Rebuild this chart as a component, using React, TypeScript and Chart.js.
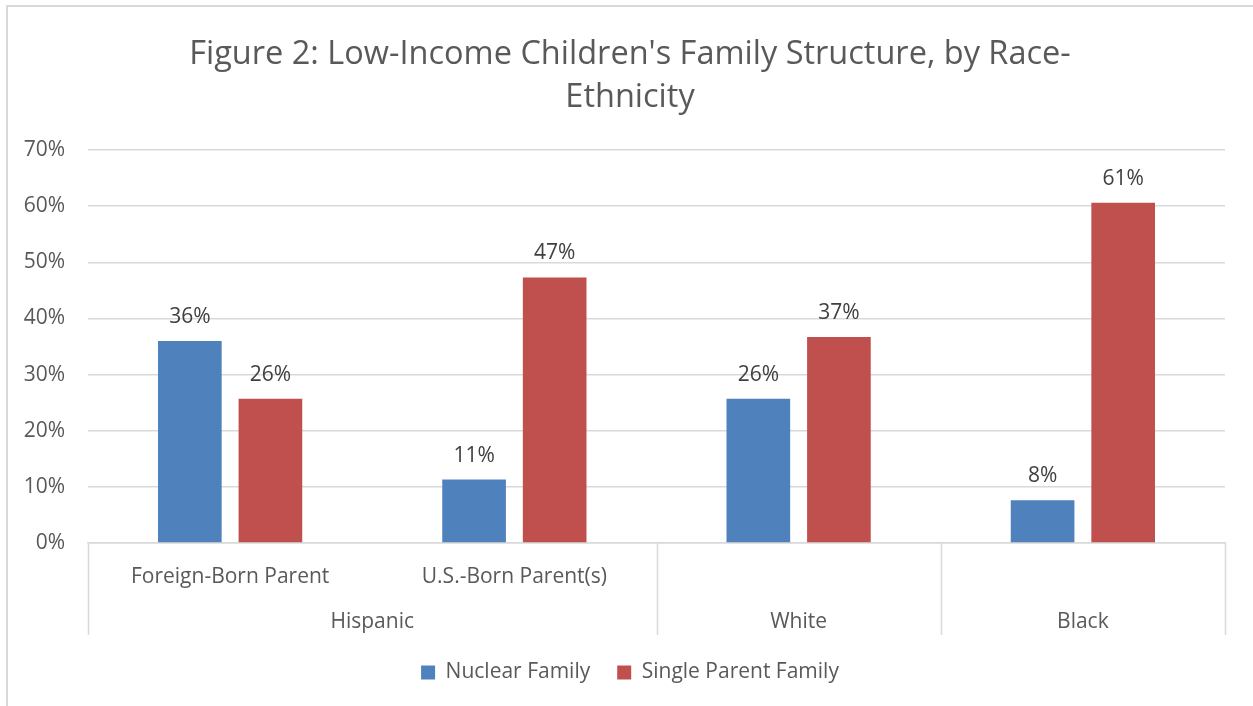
import React, { useEffect, useRef } from "react";
import { Chart, registerables } from "chart.js";

Chart.register(...registerables);

const categories = ["Foreign-Born Parent", "U.S.-Born Parent(s)", "", ""];
const groupLabels = ["Hispanic", "White", "Black"];
const groupCenters = [0.5, 2, 3];
const groupBounds = [-0.5, 1.5, 2.5, 3.5];
const nuclearFamily = [36.0, 11.3, 25.7, 7.6];
const singleParentFamily = [25.7, 47.3, 36.7, 60.6];
const yTicks = [0, 10, 20, 30, 40, 50, 60, 70];

const FONT = "'Open Sans', 'Noto Sans', sans-serif";
const TEXT = "#595959";
const GRID = "#d9d9d9";

const valueLabels = {
  id: "valueLabels",
  afterDatasetsDraw(chart: any) {
    const ctx = chart.ctx;
    ctx.save();
    ctx.font = `21px ${FONT}`;
    ctx.fillStyle = "#404040";
    ctx.textAlign = "center";
    ctx.textBaseline = "alphabetic";
    chart.data.datasets.forEach((ds: any, di: number) => {
      const meta = chart.getDatasetMeta(di);
      meta.data.forEach((bar: any, i: number) => {
        ctx.fillText(Math.round(ds.data[i]) + "%", bar.x, bar.y - 18);
      });
    });
    ctx.restore();
  },
};

const separators = {
  id: "separators",
  afterDraw(chart: any) {
    const x2 = chart.scales.x2;
    const ctx = chart.ctx;
    ctx.save();
    ctx.strokeStyle = GRID;
    ctx.lineWidth = 1.5;
    groupBounds.forEach((v) => {
      const px = Math.round(x2.getPixelForValue(v)) + 0.5;
      ctx.beginPath();
      ctx.moveTo(px, chart.chartArea.bottom);
      ctx.lineTo(px, x2.bottom);
      ctx.stroke();
    });
    ctx.restore();
  },
};

export default function App() {
  const ref = useRef<HTMLCanvasElement>(null);
  useEffect(() => {
    const chart = new Chart(ref.current as HTMLCanvasElement, {
      type: "bar",
      data: {
        labels: categories,
        datasets: [
          {
            label: "Nuclear Family",
            data: nuclearFamily,
            backgroundColor: "#4f81bd",
            categoryPercentage: 0.567,
            barPercentage: 0.79,
            yAxisID: "y",
          },
          {
            label: "Single Parent Family",
            data: singleParentFamily,
            backgroundColor: "#c0504d",
            categoryPercentage: 0.567,
            barPercentage: 0.79,
            yAxisID: "y",
          },
        ],
      },
      options: {
        responsive: false,
        animation: false,
        layout: { padding: { left: 0, right: 0, top: 0, bottom: 13 } },
        plugins: {
          title: {
            display: true,
            text: ["Figure 2: Low-Income Children's Family Structure, by Race-", "Ethnicity"],
            color: TEXT,
            font: { family: FONT, size: 32.5, weight: "normal" as any, lineHeight: 1.3 },
            padding: { top: 34, bottom: 31.5 },
          },
          legend: {
            position: "bottom",
            labels: {
              color: TEXT,
              font: { family: FONT, size: 21 },
              boxWidth: 14,
              boxHeight: 14,
              padding: 27,
            },
          },
          tooltip: { enabled: false },
        },
        scales: {
          x: {
            type: "category",
            position: "bottom",
            weight: 1,
            grid: { display: false, drawTicks: false },
            border: { display: true, color: GRID, width: 1.5 },
            ticks: { color: TEXT, font: { family: FONT, size: 21 }, padding: 21, maxRotation: 0, autoSkip: false },
            afterFit(scale: any) {
              scale.height = 46;
            },
          },
          x2: {
            type: "linear",
            position: "bottom",
            weight: 2,
            offset: false,
            min: -0.5,
            max: 3.5,
            grid: { display: false, drawTicks: false, offset: false },
            border: { display: false },
            afterBuildTicks(scale: any) {
              scale.ticks = groupCenters.map((v) => ({ value: v }));
            },
            ticks: {
              color: TEXT,
              font: { family: FONT, size: 21 },
              padding: 20,
              maxRotation: 0,
              autoSkip: false,
              callback: (v: any) => {
                const idx = groupCenters.indexOf(Number(v));
                return idx >= 0 ? groupLabels[idx] : "";
              },
            },
            afterFit(scale: any) {
              scale.height = 46;
            },
          },
          y: {
            position: "left",
            min: 0,
            max: 70,
            grid: { color: GRID, lineWidth: 1.5, drawTicks: false },
            border: { display: false },
            afterBuildTicks(scale: any) {
              scale.ticks = yTicks.map((v) => ({ value: v }));
            },
            ticks: {
              color: TEXT,
              font: { family: FONT, size: 21 },
              padding: 23,
              callback: (v: any) => v + "%",
            },
            afterFit(scale: any) {
              scale.width = 71;
            },
          },
          yRight: {
            type: "linear",
            position: "right",
            min: 0,
            max: 70,
            grid: { display: false, drawTicks: false },
            border: { display: false },
            ticks: { display: false },
            afterFit(scale: any) {
              scale.width = 18;
            },
          },
        },
      },
      plugins: [valueLabels, separators],
    });
    return () => chart.destroy();
  }, []);

  return (
    <div style={{ position: "fixed", left: 0, top: 0, width: 1253, height: 706, background: "#fff", overflow: "hidden" }}>
      <div
        style={{
          position: "absolute",
          left: 6,
          top: 5,
          width: 1300,
          height: 800,
          borderTop: "2px solid #d9d9d9",
          borderLeft: "2px solid #d9d9d9",
        }}
      />
      <canvas ref={ref} width={1226} height={706} style={{ position: "absolute", left: 17, top: 0 }} />
    </div>
  );
}
